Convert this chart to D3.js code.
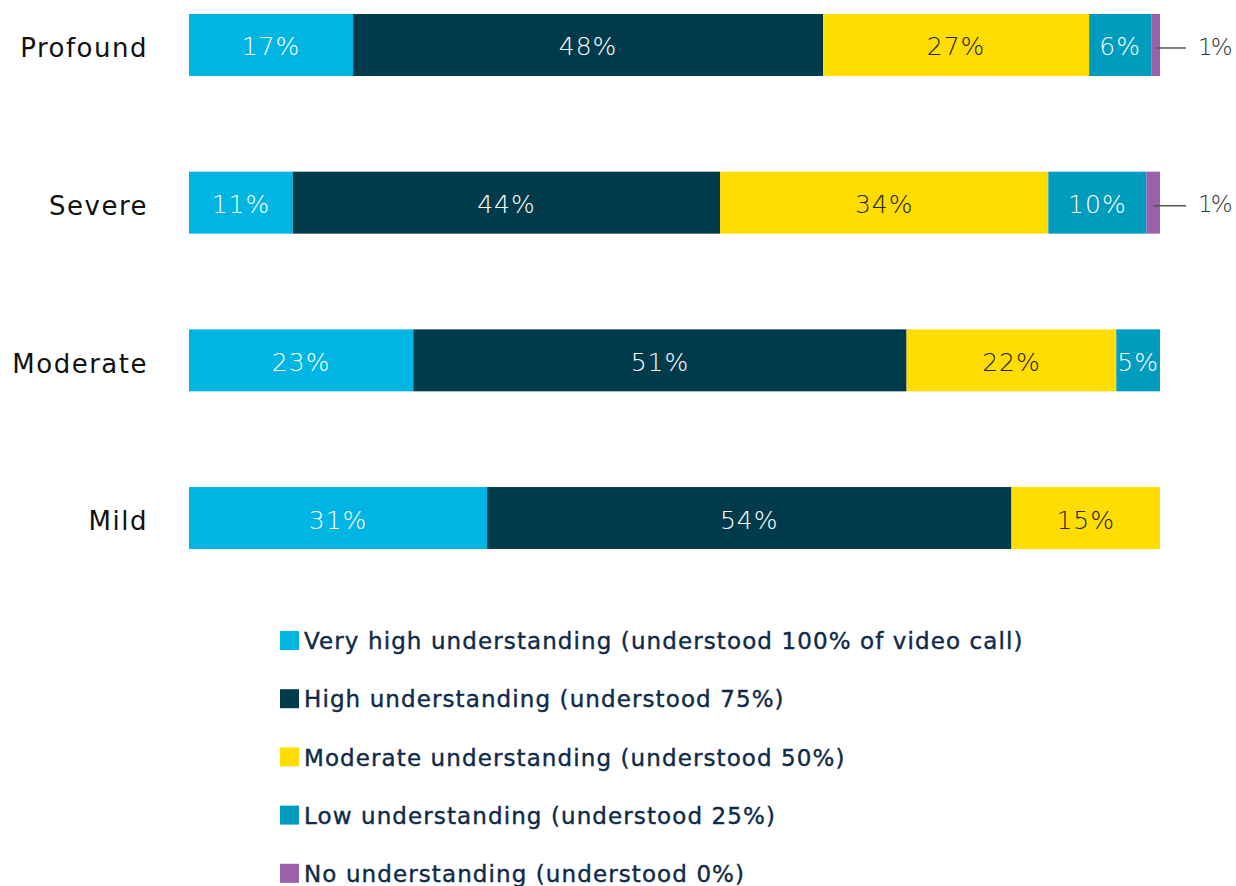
<!DOCTYPE html>
<html>
<head>
<meta charset="utf-8">
<script src="https://cdn.jsdelivr.net/npm/d3@7"></script>
<style>
  body { margin: 0; background: #fff; }
  svg { display: block; }
</style>
</head>
<body>
<script>
// severity groups, top to bottom
var categories = ["Profound", "Severe", "Moderate", "Mild"];
var seriesNames = [
  "Very high understanding (understood 100% of video call)",
  "High understanding (understood 75%)",
  "Moderate understanding (understood 50%)",
  "Low understanding (understood 25%)",
  "No understanding (understood 0%)"
];
// share of respondents (%) per series, in category order
var veryHigh = [16.9, 10.7, 23.1, 30.7];
var high     = [48.4, 44.0, 50.8, 54.0];
var moderate = [27.4, 33.8, 21.6, 15.3];
var low      = [6.4, 10.1, 4.5, 0];
var none     = [0.9, 1.4, 0, 0];
var colors = ["#00b5e2", "#003b4c", "#ffdd00", "#009cbd", "#9b60aa"];
var labelColors = ["#fff", "#fff", "#222", "#fff", "#fff"];

var width = 1236, height = 886;
var margin = {top: 14, left: 189, right: 76};
var font = "'DejaVu Sans', sans-serif";

var svg = d3.select("body").append("svg")
    .attr("width", width)
    .attr("height", height);

var seriesValues = [veryHigh, high, moderate, low, none];
var rows = categories.map(function(c, i) {
  var row = {name: c};
  seriesNames.forEach(function(s, j) { row[s] = seriesValues[j][i]; });
  return row;
});

var stack = d3.stack().keys(seriesNames);
var layers = stack(rows);

var x = d3.scaleLinear()
    .domain([0, 100])
    .range([margin.left, width - margin.right]);

var y = d3.scaleBand()
    .domain(categories)
    .range([margin.top, 549])
    .paddingInner(0.607)
    .paddingOuter(0);

var g = svg.append("g");

layers.forEach(function(layer, j) {
  var lg = g.append("g");
  lg.selectAll("rect")
    .data(layer.filter(function(d) { return d[1] - d[0] > 0; }))
    .enter().append("rect")
      .attr("x", function(d) { return x(d[0]); })
      .attr("y", function(d) { return y(d.data.name); })
      .attr("width", function(d) { return x(d[1]) - x(d[0]); })
      .attr("height", y.bandwidth())
      .attr("fill", colors[j]);

  // inside labels for wide enough segments
  lg.selectAll("text")
    .data(layer.filter(function(d) { return d[1] - d[0] >= 3; }))
    .enter().append("text")
      .attr("x", function(d) { return (x(d[0]) + x(d[1])) / 2; })
      .attr("y", function(d) { return y(d.data.name) + y.bandwidth() / 2; })
      .attr("dy", "0.42em")
      .attr("text-anchor", "middle")
      .attr("font-family", font)
      .attr("font-weight", 200)
      .attr("font-size", "25px")
      .attr("letter-spacing", "1px")
      .attr("fill", labelColors[j])
      .text(function(d) { return Math.round(d[1] - d[0]) + "%"; });

  // tiny segments get a leader line and an outside label
  var small = layer.filter(function(d) { return d[1] - d[0] > 0 && d[1] - d[0] < 3; });
  lg.selectAll("line")
    .data(small)
    .enter().append("line")
      .attr("x1", function(d) { return (x(d[0]) + x(d[1])) / 2; })
      .attr("x2", x(100) + 26)
      .attr("y1", function(d) { return y(d.data.name) + y.bandwidth() / 2 + 3; })
      .attr("y2", function(d) { return y(d.data.name) + y.bandwidth() / 2 + 3; })
      .attr("stroke", "#555")
      .attr("stroke-width", 1.5);
  lg.selectAll("text.out")
    .data(small)
    .enter().append("text")
      .attr("class", "out")
      .attr("x", x(100) + 38)
      .attr("y", function(d) { return y(d.data.name) + y.bandwidth() / 2; })
      .attr("dy", "0.42em")
      .attr("font-family", font)
      .attr("font-weight", 200)
      .attr("font-size", "23px")
      .attr("letter-spacing", "-2px")
      .attr("fill", "#333")
      .text(function(d) { return Math.round(d[1] - d[0]) + "%"; });
});

// category labels
var yAxis = d3.axisLeft(y).tickSize(0).tickPadding(41);
svg.append("g")
    .attr("transform", "translate(" + margin.left + ",4)")
    .call(yAxis)
    .call(function(a) { a.select(".domain").remove(); })
    .selectAll("text")
      .attr("font-family", font)
      .attr("font-size", "26px")
      .attr("letter-spacing", "1.5px")
      .attr("fill", "#111");

// legend
var legend = svg.append("g").attr("transform", "translate(280,641)");
var item = legend.selectAll("g")
    .data(seriesNames)
    .enter().append("g")
      .attr("transform", function(d, i) { return "translate(0," + (i * 58.2) + ")"; });
item.append("rect")
    .attr("x", 0)
    .attr("y", -10)
    .attr("width", 19)
    .attr("height", 19)
    .attr("fill", function(d, i) { return colors[i]; });
item.append("text")
    .attr("x", 24)
    .attr("y", 0)
    .attr("dy", "0.36em")
    .attr("font-family", font)
    .attr("font-size", "23px")
    .attr("letter-spacing", "1.1px")
    .attr("fill", "#0f2a4a")
    .attr("stroke", "#0f2a4a")
    .attr("stroke-width", 0.4)
    .text(function(d) { return d; });
</script>
</body>
</html>
